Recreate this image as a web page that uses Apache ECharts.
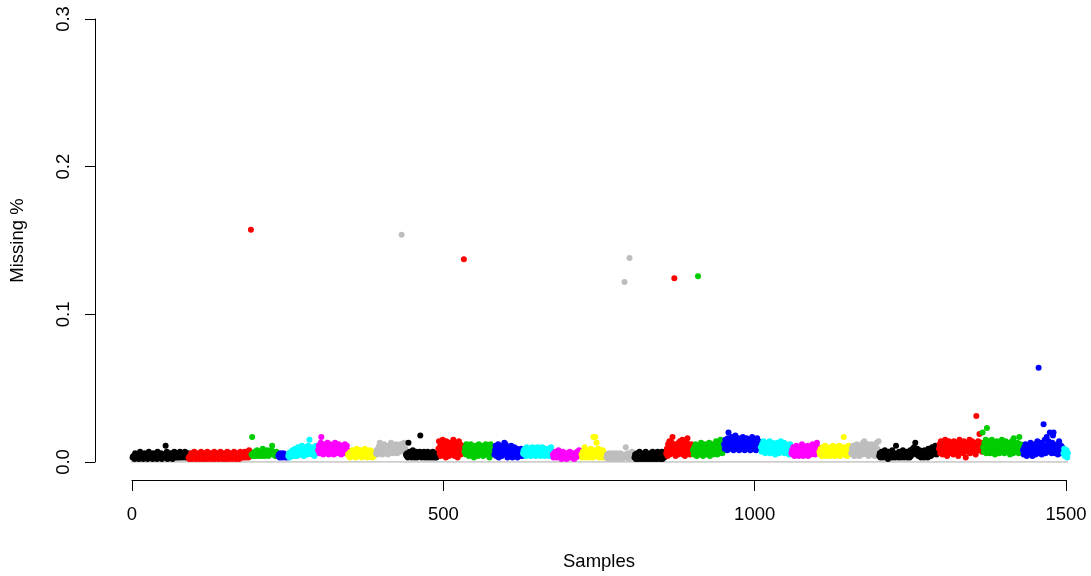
<!DOCTYPE html>
<html><head><meta charset="utf-8">
<script src="https://cdn.jsdelivr.net/npm/echarts@6/dist/echarts.min.js"></script>
<style>html,body{margin:0;padding:0;background:#fff}#c{width:1091px;height:576px}</style>
</head><body><div id="c"></div>
<script>
// R default palette colours, one per consecutive sample group
const groupColors = ['#000000','#FF0000','#00CD00','#0000FF','#00FFFF','#FF00FF','#FFFF00','#BEBEBE',
  '#000000','#FF0000','#00CD00','#0000FF','#00FFFF','#FF00FF','#FFFF00','#BEBEBE',
  '#000000','#FF0000','#00CD00','#0000FF','#00FFFF','#FF00FF','#FFFF00','#BEBEBE',
  '#000000','#FF0000','#00CD00','#0000FF','#00FFFF'];
// Missing % per sample, in thousandths (0.001), in sample order, one list per group
const groupValues = [
 [3,4,3,2,6,3,5,3,4,3,2,3,7,3,5,4,3,2,3,6,3,5,3,4,2,3,7,3,3,5,4,3,2,6,3,5,3,4,3,2,7,3,5,4,3,3,6,2,3,4,3,5,4,11,3,7,2,3,5,4,3,6,3,5,2,4,3,7,5,3,4,3,6,5,3,4,7,3,4,5,4,3,6,4,7,3,5,4,3,6],
 [3,2,4,3,6,3,2,4,3,7,3,4,2,3,6,3,4,2,3,5,7,3,2,4,3,6,2,3,4,3,7,2,4,3,3,6,4,2,3,4,3,7,2,3,4,3,6,3,2,4,3,7,3,4,2,3,4,6,3,2,4,3,7,3,2,4,3,6,4,3,2,4,3,7,3,4,2,6,3,4,3,2,4,7,3,4,3,6,4,3,7,4,3,6,4,5,3,8,4,5,157.3],
 [5,17,4,6,5,7,4,5,6,8,5,4,6,5,7,5,4,6,9,5,6,4,7,5,6,8,5,4,6,7,5,6,8,11,6,5,7,6,4,5,7,6,5],
 [4,5,3,6,4,5,3,4,6,4,5,3,4,5,4,3],
 [4,6,3,5,7,4,6,8,5,4,7,9,5,6,4,8,10,6,5,7,9,5,11,7,6,4,8,10,6,9,5,7,11,8,15,6,9,7,5,10,8,6,4,9,7,11,6,8],
 [8,11,6,9,13,17,7,10,5,12,8,6,11,9,7,13,10,5,8,12,6,9,11,7,10,5,8,13,9,6,11,7,10,12,6,8,9,5,11,7,10,8,6,12,9,7,11,8],
 [5,4,6,3,7,5,4,8,6,4,5,7,3,6,9,4,5,7,6,4,8,5,3,6,4,7,5,9,4,6,5,3,7,4,6,8,5,4,6,3,5,7,4,6,5],
 [6,8,5,9,7,11,13,6,8,10,5,9,7,12,6,8,10,7,9,5,11,8,6,10,13,7,9,11,6,8,10,7,12,9,6,11,8,10,7,12,9,153.9,8,11,10,13,7,9],
 [5,4,6,3,13,5,7,4,6,3,5,8,4,6,3,5,7,4,3,6,5,4,7,18,5,3,6,4,5,7,3,4,6,5,3,7,4,5,3,6,4,5,3,7,4,6,3,5,4,3,6,4],
 [9,14,6,11,4,13,8,15,5,10,12,7,3,14,9,6,11,4,13,8,10,5,12,7,15,9,4,11,6,13,8,3,10,14,7,12,5,9,11,6,8,137.3],
 [7,10,5,12,8,6,11,4,9,7,12,5,8,10,6,3,9,11,7,5,10,8,4,12,6,9,7,11,5,8,4,10,6,9,12,7,5,11,8,6,3,9,12,7,10,5,8,6],
 [5,8,11,4,9,6,12,3,7,10,5,8,4,11,6,9,13,7,12,5,8,3,10,6,4,9,7,11,5,3,8,6,10,4,7,5,9,3,6,8,4,7,5,9,6,4],
 [6,8,5,9,7,4,10,6,8,5,7,9,4,6,8,10,5,7,6,9,4,8,6,10,7,5,9,6,4,8,7,10,5,6,9,4,7,8,6,5,9,7,4,8,6,10,5,7],
 [5,3,6,4,7,5,3,6,4,8,5,3,4,6,2,5,7,4,3,6,5,4,2,6,3,5,4,7,3,5,4,6,3,5,2,4,6,3,5,7,4,6,8,5,7,4],
 [5,3,7,4,6,10,5,3,8,4,6,5,3,7,4,9,5,6,3,17,4,8,17,5,13,6,4,9,3,7,5,4,6,3,8,5,4,6,3,5],
 [3,5,4,2,6,4,3,5,2,4,6,3,5,4,2,3,6,4,5,3,2,4,6,3,5,4,2,5,3,121.9,4,10,5,3,6,4,2,138.1,5,3,4,7,3,5,4],
 [3,5,2,4,6,3,2,4,7,3,2,6,4,3,5,2,4,3,7,2,4,5,3,2,4,6,3,5,2,7,3,5,2,6,4,3,2,7,4,3,6,2,4,3,7,2,4,6,3,5,4],
 [6,9,4,12,7,14,5,10,8,13,17,6,11,124.4,9,4,12,7,10,5,13,8,14,6,9,11,15,5,8,12,4,10,7,13,16,6,9,11,5,8,12,6,9],
 [8,5,10,6,12,7,4,9,125.8,11,6,8,5,13,7,10,4,9,6,12,8,5,11,7,9,6,13,4,10,8,7,12,5,9,6,11,8,14,7,5,10,6,12,9,15,7,10,6,11,8],
 [12,9,15,10,13,8,16,20,11,14,9,12,17,10,13,8,15,11,18,9,14,12,10,16,8,13,11,15,9,12,17,10,14,8,13,11,16,9,12,15,10,13,8,14,11,17,9,12,15,10,13,8,11,16,9,14,12,10,13],
 [10,7,12,9,14,8,11,6,13,9,7,12,10,8,14,6,11,9,13,7,10,12,8,5,11,9,13,7,10,6,12,8,14,9,11,7,10,13,6,9,12,8,11,7,10,5,9,12,8],
 [6,8,5,10,7,4,9,6,11,5,8,7,4,10,6,9,5,12,7,4,8,6,10,5,9,7,11,4,8,6,10,5,9,7,12,6,8,11,5,9,7,13,10,6,8],
 [7,5,9,6,4,10,8,5,7,11,6,4,9,7,5,8,10,6,4,9,7,5,11,8,6,4,10,7,9,5,8,6,11,4,7,9,5,10,6,17,8,5,10,7,4,9,6,11,5,8,6],
 [6,9,5,11,7,4,10,8,6,12,5,9,7,4,11,8,6,10,5,13,7,14,9,6,11,5,8,12,4,10,7,9,6,12,5,8,11,7,4,10,6,13,9,8,14],
 [4,6,3,5,7,4,3,6,5,8,4,3,6,5,2,7,4,5,3,6,4,8,3,5,6,4,3,11,5,4,6,3,7,4,5,3,6,4,8,5,3,6,4,5,7,3,4,6,5,3,8,4,6,5,9,7,10,6,13,8,5,9,7,4,6,8,5,3,7,4,6,5,3,8,4,6,5,7,3,9,5,6,8,4,7,10,5,8,6,9,11,7,5,8,10,6],
 [9,12,6,14,8,11,5,13,10,7,15,9,12,4,11,8,14,6,10,13,7,12,9,5,14,11,8,13,6,10,12,4,9,15,7,11,13,8,10,6,14,9,12,3,11,8,13,7,10,15,6,12,9,14,8,11,7,13,10,5,31.1,12,8,14,10,19,11,9,13,7],
 [20,10,7,13,9,15,6,23,11,8,14,10,6,12,9,15,7,11,13,8,5,12,10,14,7,9,11,6,13,8,10,15,7,12,9,6,11,14,8,10,13,7,9,12,5,11,8,14,10,6,16,9,12,7,11,8,13,10,6,17,9,12,8,11,7],
 [8,5,10,6,12,7,4,9,11,6,8,5,13,7,10,4,9,6,12,8,5,11,7,14,9,63.9,6,10,8,13,5,12,7,25.5,9,15,6,11,17,8,10,14,7,20,12,9,6,13,18,19.9,8,11,6,10,7,12,5,9,14,8,6,11,7,10,9],
 [6,9,4,7,5,8,3,6]
];
const baselineX = [-2, 1506];
const xTicks = [0, 500, 1000, 1500];
const yTicks = [0, 0.1, 0.2, 0.3];

const FONT = '"Liberation Sans", Arial, sans-serif';
const series = [{
  type: 'line', silent: true, symbol: 'none', z: 1,
  data: baselineX.map(x => [x, 0]),
  lineStyle: { color: '#bebebe', width: 1.3 }
}];
let start = 1;
groupValues.forEach((vals, g) => {
  series.push({
    type: 'scatter', symbol: 'circle', symbolSize: 6, clip: false, z: 2,
    itemStyle: { color: groupColors[g], opacity: 1 },
    data: vals.map((v, i) => [start + i, v / 1000])
  });
  start += vals.length;
});

const chart = echarts.init(document.getElementById('c'), null, { renderer: 'canvas' });
chart.setOption({
  animation: false,
  backgroundColor: '#ffffff',
  grid: { left: 132, right: 25, top: 19, bottom: 114, containLabel: false },
  xAxis: {
    type: 'value', min: xTicks[0], max: xTicks[xTicks.length - 1], interval: 500,
    offset: 18, splitLine: { show: false },
    axisLine: { show: true, onZero: false, lineStyle: { color: '#000', width: 1 } },
    axisTick: { show: true, length: 11, lineStyle: { color: '#000', width: 1 } },
    axisLabel: { color: '#000', fontSize: 18.5, fontFamily: FONT, margin: 25,
      formatter: v => String(v) },
    name: 'Samples', nameLocation: 'middle', nameGap: 72,
    nameTextStyle: { color: '#000', fontSize: 18.5, fontFamily: FONT }
  },
  yAxis: {
    type: 'value', min: yTicks[0], max: yTicks[yTicks.length - 1], interval: 0.1,
    offset: 37, splitLine: { show: false },
    axisLine: { show: true, onZero: false, lineStyle: { color: '#000', width: 1 } },
    axisTick: { show: true, length: 10, lineStyle: { color: '#000', width: 1 } },
    axisLabel: { color: '#000', fontSize: 18.5, fontFamily: FONT, margin: 22, rotate: 90,
      formatter: v => v.toFixed(1) },
    name: 'Missing %', nameLocation: 'middle', nameGap: 68, nameRotate: 90,
    nameTextStyle: { color: '#000', fontSize: 18.5, fontFamily: FONT }
  },
  series: series
});
</script>
</body></html>
